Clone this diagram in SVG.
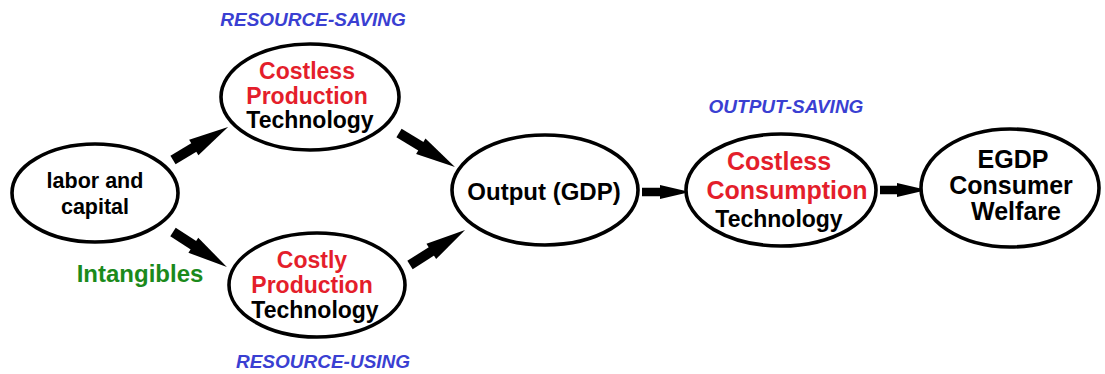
<svg xmlns="http://www.w3.org/2000/svg" width="1105" height="374" viewBox="0 0 1105 374">
<style>
.node{fill:#fff;stroke:#000;stroke-width:3.6}
text{font-family:"Liberation Sans",Arial,sans-serif;font-weight:bold;text-anchor:middle}
.blk{fill:#000}
.red{fill:#e41e2b}
.blue{fill:#3a3fd2;font-style:italic;font-size:19px}
.green{fill:#1b8a1b}
.shaft{stroke:#000;stroke-width:10;fill:none}
.shaftS{stroke:#000;stroke-width:8.5;fill:none}
</style>
<defs>
<marker id="head" markerUnits="userSpaceOnUse" markerWidth="42" markerHeight="20" viewBox="-2 -10 42 20" refX="0" refY="0" orient="auto" overflow="visible">
<path d="M-2,-9 L38,0 L-2,9 Z" fill="#000"/>
</marker>
<marker id="headS" markerUnits="userSpaceOnUse" markerWidth="32" markerHeight="16" viewBox="-2 -8 32 16" refX="0" refY="0" orient="auto" overflow="visible">
<path d="M-2,-7 L28,0 L-2,7 Z" fill="#000"/>
</marker>
</defs>
<rect width="1105" height="374" fill="#fff"/>
<g id="connectors">
<line class="shaft" x1="173" y1="160" x2="195.5" y2="146.5" marker-end="url(#head)"/>
<line class="shaft" x1="399" y1="133" x2="422.5" y2="147.3" marker-end="url(#head)"/>
<line class="shaft" x1="173" y1="232" x2="195" y2="246.3" marker-end="url(#head)"/>
<line class="shaft" x1="410" y1="265" x2="433" y2="250.4" marker-end="url(#head)"/>
<line class="shaftS" x1="642" y1="192" x2="662" y2="192" marker-end="url(#headS)"/>
<line class="shaftS" x1="880" y1="190" x2="899" y2="190" marker-end="url(#headS)"/>
</g>
<g id="labor">
<ellipse class="node" cx="95" cy="193" rx="83" ry="49"/>
<text class="blk" x="95" y="188" font-size="21.5">labor and</text>
<text class="blk" x="95" y="214" font-size="21.5">capital</text>
</g>
<g id="costless-production">
<ellipse class="node" cx="310" cy="97" rx="89" ry="53"/>
<text class="red" x="307" y="79" font-size="23">Costless</text>
<text class="red" x="307" y="104" font-size="23">Production</text>
<text class="blk" x="310" y="128" font-size="23">Technology</text>
</g>
<g id="costly-production">
<ellipse class="node" cx="317" cy="285" rx="88" ry="52"/>
<text class="red" x="312" y="268" font-size="23">Costly</text>
<text class="red" x="312" y="293" font-size="23">Production</text>
<text class="blk" x="315" y="318" font-size="23">Technology</text>
</g>
<g id="output">
<ellipse class="node" cx="545" cy="190" rx="93" ry="55"/>
<text class="blk" x="544" y="200" font-size="24">Output (GDP)</text>
</g>
<g id="costless-consumption">
<ellipse class="node" cx="781" cy="190" rx="95" ry="56"/>
<text class="red" x="779" y="170" font-size="25">Costless</text>
<text class="red" x="787" y="199" font-size="25">Consumption</text>
<text class="blk" x="779" y="227" font-size="23">Technology</text>
</g>
<g id="egdp">
<ellipse class="node" cx="1010" cy="188" rx="89" ry="59"/>
<text class="blk" x="1013" y="168" font-size="25">EGDP</text>
<text class="blk" x="1011" y="194" font-size="25">Consumer</text>
<text class="blk" x="1016" y="220" font-size="25">Welfare</text>
</g>
<g id="labels">
<text class="blue" x="313" y="26">RESOURCE-SAVING</text>
<text class="blue" x="323" y="368">RESOURCE-USING</text>
<text class="blue" x="786" y="113">OUTPUT-SAVING</text>
<text class="green" x="140" y="282" font-size="24">Intangibles</text>
</g>
</svg>
